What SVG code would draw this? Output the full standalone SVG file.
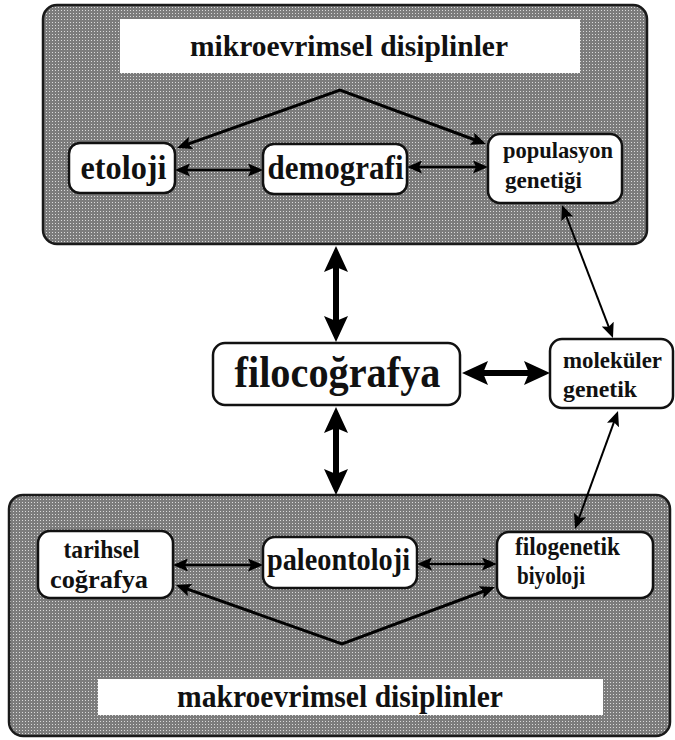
<svg xmlns="http://www.w3.org/2000/svg" width="675" height="740" viewBox="0 0 675 740">
  <defs>
    <!-- halftone screen used for the two discipline panels -->
    <pattern id="halftone" width="3" height="3" patternUnits="userSpaceOnUse">
      <rect width="3" height="3" fill="#7c7c7c"/>
      <rect x="1" y="1" width="1" height="1" fill="#dadada"/>
    </pattern>
    <!-- large arrowhead for the thick links around the centre node -->
    <marker id="bigHead" viewBox="0 0 26 24" refX="8" refY="12" markerWidth="26" markerHeight="24"
            markerUnits="userSpaceOnUse" orient="auto-start-reverse">
      <path d="M0,0 L26,12 L0,24 L5,12 Z" fill="#000"/>
    </marker>
    <!-- medium arrowhead for links inside the panels and the diagonal links -->
    <marker id="midHead" viewBox="0 0 15 13" refX="5" refY="6.5" markerWidth="15" markerHeight="13"
            markerUnits="userSpaceOnUse" orient="auto-start-reverse">
      <path d="M0,0 L15,6.5 L0,13 L3,6.5 Z" fill="#000"/>
    </marker>
  </defs>
  <style>
    .panel { fill: url(#halftone); stroke: #1a1a1a; stroke-width: 2.5; }
    .banner { fill: #ffffff; }
    .node { fill: #ffffff; stroke: #111; stroke-width: 2.5; }
    .label { font-family: "Liberation Serif", "Times New Roman", serif; font-weight: 700; fill: #111; }
    .link { fill: none; stroke: #000; stroke-linejoin: miter; }
    .thick { stroke-width: 6; marker-start: url(#bigHead); marker-end: url(#bigHead); }
    .vee { stroke-width: 3; marker-start: url(#midHead); marker-end: url(#midHead); }
    .thin { stroke-width: 2.5; marker-start: url(#midHead); marker-end: url(#midHead); }
    .diag { stroke-width: 2; marker-start: url(#midHead); marker-end: url(#midHead); }
  </style>

  <rect width="675" height="740" fill="#ffffff"/>

  <!-- upper panel: microevolutionary disciplines -->
  <g id="panel-micro">
    <rect class="panel" x="43" y="5" width="604" height="239" rx="14"/>
    <rect class="banner" x="120" y="19" width="460" height="54"/>
    <text class="label" x="349" y="56" font-size="29" text-anchor="middle" textLength="318" lengthAdjust="spacingAndGlyphs">mikroevrimsel disiplinler</text>
  </g>

  <!-- lower panel: macroevolutionary disciplines -->
  <g id="panel-macro">
    <rect class="panel" x="9" y="495" width="661" height="241" rx="14"/>
    <rect class="banner" x="98" y="679" width="505" height="36"/>
    <text class="label" x="340" y="707" font-size="31" text-anchor="middle" textLength="326" lengthAdjust="spacingAndGlyphs">makroevrimsel disiplinler</text>
  </g>

  <!-- connectors -->
  <g id="connectors">
    <!-- upper panel -->
    <polyline class="link vee" points="186.4,144.6 340,90 476.6,140.5"/>
    <line class="link thin" x1="185" y1="170" x2="253" y2="170"/>
    <line class="link thin" x1="417" y1="167" x2="478" y2="167"/>
    <!-- centre -->
    <line class="link thick" x1="336" y1="264" x2="336" y2="324"/>
    <line class="link thick" x1="336" y1="425" x2="336" y2="477"/>
    <line class="link thick" x1="480" y1="373" x2="532" y2="373"/>
    <!-- diagonals to molecular genetics -->
    <line class="link diag" x1="565.6" y1="214.3" x2="609.4" y2="328.7"/>
    <line class="link diag" x1="614.6" y1="420.4" x2="578.4" y2="519.6"/>
    <!-- lower panel -->
    <line class="link thin" x1="183" y1="565" x2="253" y2="565"/>
    <line class="link thin" x1="427" y1="564" x2="487" y2="564"/>
    <polyline class="link vee" points="185.4,588.4 342,644 485.6,590.5"/>
  </g>

  <g id="etoloji">
    <rect class="node" x="69" y="143" width="106" height="50" rx="11"/>
    <text class="label" x="123.5" y="179" font-size="33" text-anchor="middle" textLength="86" lengthAdjust="spacingAndGlyphs">etoloji</text>
  </g>

  <g id="demografi">
    <rect class="node" x="263" y="144" width="144" height="50" rx="11"/>
    <text class="label" x="335.5" y="179" font-size="33" text-anchor="middle" textLength="136" lengthAdjust="spacingAndGlyphs">demografi</text>
  </g>

  <g id="populasyon-genetigi">
    <rect class="node" x="488" y="134" width="134" height="69" rx="12"/>
    <text class="label" x="503" y="158" font-size="24" textLength="110" lengthAdjust="spacingAndGlyphs">populasyon</text>
    <text class="label" x="505" y="188" font-size="24" textLength="77" lengthAdjust="spacingAndGlyphs">genetiği</text>
  </g>

  <g id="filocografya">
    <rect class="node" x="213" y="343" width="247" height="62" rx="12"/>
    <text class="label" x="337.5" y="387" font-size="45" text-anchor="middle" textLength="206" lengthAdjust="spacingAndGlyphs">filocoğrafya</text>
  </g>

  <g id="molekuler-genetik">
    <rect class="node" x="550" y="339" width="123" height="69" rx="12"/>
    <text class="label" x="563" y="368" font-size="24" textLength="99" lengthAdjust="spacingAndGlyphs">moleküler</text>
    <text class="label" x="563" y="397" font-size="24" textLength="74" lengthAdjust="spacingAndGlyphs">genetik</text>
  </g>

  <g id="tarihsel-cografya">
    <rect class="node" x="38" y="531" width="135" height="67" rx="12"/>
    <text class="label" x="101.5" y="558" font-size="25" text-anchor="middle" textLength="76" lengthAdjust="spacingAndGlyphs">tarihsel</text>
    <text class="label" x="99" y="588" font-size="25" text-anchor="middle" textLength="98" lengthAdjust="spacingAndGlyphs">coğrafya</text>
  </g>

  <g id="paleontoloji">
    <rect class="node" x="263" y="537" width="154" height="51" rx="12"/>
    <text class="label" x="338.5" y="570" font-size="31" text-anchor="middle" textLength="143" lengthAdjust="spacingAndGlyphs">paleontoloji</text>
  </g>

  <g id="filogenetik-biyoloji">
    <rect class="node" x="497" y="532" width="156" height="66" rx="12"/>
    <text class="label" x="515" y="555" font-size="25" textLength="105" lengthAdjust="spacingAndGlyphs">filogenetik</text>
    <text class="label" x="517" y="584" font-size="25" textLength="68" lengthAdjust="spacingAndGlyphs">biyoloji</text>
  </g>
</svg>
